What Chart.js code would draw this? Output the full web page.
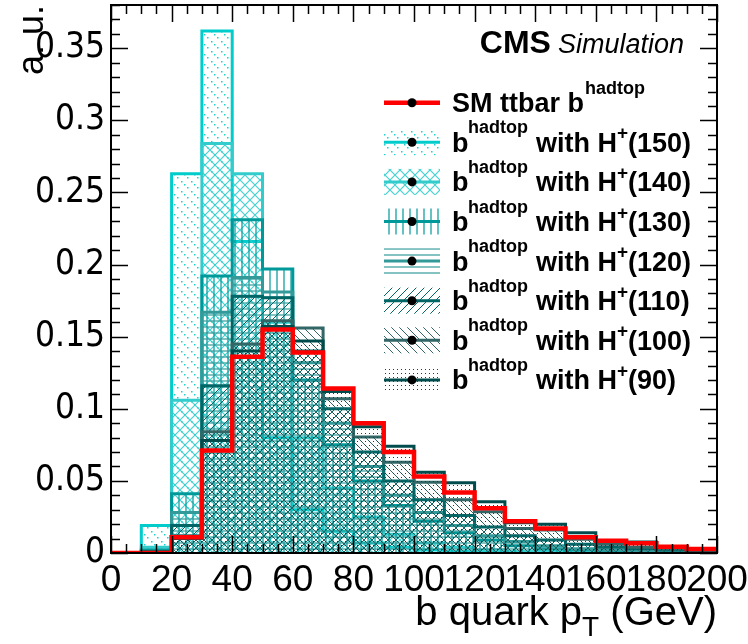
<!DOCTYPE html>
<html>
<head>
<meta charset="utf-8">
<script src="https://cdn.jsdelivr.net/npm/chart.js@4"></script>
<style>
  body { margin: 0; background: #fff; }
  canvas { display: block; }
</style>
</head>
<body>
<canvas id="myChart" width="748" height="644"></canvas>
<script>
  // bin low edges (GeV), 10 GeV bins
  var binLow = [0, 10, 20, 30, 40, 50, 60, 70, 80, 90, 100, 110, 120, 130, 140, 150, 160, 170, 180, 190];
  var binEnd = 200;

  var smTtbar = [0, 0, 0.011, 0.071, 0.136, 0.155, 0.139, 0.114, 0.090, 0.070, 0.053, 0.042, 0.031, 0.022, 0.017, 0.011, 0.0085, 0.0067, 0.0044, 0.0028];
  var hp150 = [0, 0.019, 0.263, 0.362, 0.216, 0.080, 0.030, 0.015, 0.007, 0.004, 0.002, 0.001, 0.001, 0, 0, 0, 0, 0, 0, 0];
  var hp140 = [0, 0.004, 0.106, 0.284, 0.263, 0.160, 0.080, 0.045, 0.025, 0.013, 0.007, 0.004, 0.002, 0.001, 0.001, 0, 0, 0, 0, 0];
  var hp130 = [0, 0.002, 0.041, 0.192, 0.231, 0.197, 0.120, 0.075, 0.050, 0.033, 0.022, 0.014, 0.009, 0.005, 0.003, 0.002, 0.001, 0.001, 0, 0];
  var hp120 = [0, 0.001, 0.028, 0.167, 0.191, 0.181, 0.132, 0.090, 0.060, 0.040, 0.028, 0.019, 0.012, 0.008, 0.005, 0.003, 0.002, 0.001, 0.001, 0];
  var hp110 = [0, 0.001, 0.019, 0.116, 0.178, 0.177, 0.140, 0.100, 0.070, 0.050, 0.037, 0.026, 0.018, 0.012, 0.009, 0.006, 0.004, 0.003, 0.002, 0.001];
  var hp100 = [0, 0, 0.012, 0.084, 0.145, 0.161, 0.156, 0.107, 0.0805, 0.063, 0.049, 0.037, 0.0286, 0.017, 0.016, 0.0095, 0.006, 0.004, 0.003, 0.002];
  var hp90 = [0, 0, 0.010, 0.078, 0.140, 0.157, 0.147, 0.112, 0.0875, 0.074, 0.056, 0.0487, 0.0355, 0.021, 0.020, 0.014, 0.008, 0.0076, 0.004, 0.002];

  var massLabels = ['150', '140', '130', '120', '110', '100', '90'];
  var xTicks = [0, 20, 40, 60, 80, 100, 120, 140, 160, 180, 200];
  var yTicks = [0, 0.05, 0.1, 0.15, 0.2, 0.25, 0.3, 0.35];

  var FONT = '"Liberation Sans", Arial, Helvetica, sans-serif';
  var NARROW = '"Liberation Sans Narrow", "DejaVu Sans Condensed", "Liberation Sans", Arial, sans-serif';

  // pattern tiles, ROOT-like fill styles
  function makePattern(kind, color) {
    var c = document.createElement('canvas');
    var n = {dotdiag: 10, cross: 10, vert: 7, horiz: 6, fwd: 8, back: 8, dots: 4}[kind];
    c.width = n; c.height = n;
    var g = c.getContext('2d');
    g.fillStyle = color;
    g.strokeStyle = color;
    if (kind == 'dotdiag') {
      g.fillRect(1, 1, 1.5, 1.5); g.fillRect(4, 4, 1.5, 1.5); g.fillRect(7, 7, 1.5, 1.5);
    } else if (kind == 'cross') {
      g.lineWidth = 1.2;
      g.beginPath();
      g.moveTo(0, 0); g.lineTo(n, n);
      g.moveTo(n, 0); g.lineTo(0, n);
      g.stroke();
    } else if (kind == 'vert') {
      g.fillRect(3, 0, 2, n);
    } else if (kind == 'horiz') {
      g.fillRect(0, 2, n, 2);
    } else if (kind == 'fwd' || kind == 'back') {
      g.lineWidth = 1;
      g.beginPath();
      [-n, 0, n].forEach(function (k) {
        if (kind == 'fwd') { g.moveTo(k, n); g.lineTo(k + n, 0); }
        else { g.moveTo(k, 0); g.lineTo(k + n, n); }
      });
      g.stroke();
    } else if (kind == 'dots') {
      g.fillRect(1, 1, 1, 1);
    }
    return g.createPattern(c, 'repeat');
  }

  function histPoints(vals) {
    var pts = binLow.map(function (x, i) { return {x: x, y: vals[i]}; });
    pts.push({x: binEnd, y: vals[vals.length - 1]});
    return pts;
  }

  var series = [
    {vals: hp150, color: 'rgb(0,204,204)', hatch: 'rgba(0,204,204,0.9)', kind: 'dotdiag'},
    {vals: hp140, color: 'rgb(51,204,204)', hatch: 'rgba(51,204,204,0.9)', kind: 'cross'},
    {vals: hp130, color: 'rgb(0,153,153)', hatch: 'rgba(0,153,153,0.6)', kind: 'vert'},
    {vals: hp120, color: 'rgb(51,153,153)', hatch: 'rgba(51,153,153,0.6)', kind: 'horiz'},
    {vals: hp110, color: 'rgb(0,102,102)', hatch: 'rgb(0,102,102)', kind: 'fwd'},
    {vals: hp100, color: 'rgb(51,102,102)', hatch: 'rgb(51,102,102)', kind: 'back'},
    {vals: hp90, color: 'rgb(0,76,76)', hatch: 'rgb(0,76,76)', kind: 'dots'}
  ];
  series.forEach(function (s) { s.pattern = makePattern(s.kind, s.hatch); });

  var datasets = [{
    label: 'SM ttbar',
    data: histPoints(smTtbar),
    borderColor: 'rgb(255,0,0)',
    borderWidth: 4.5,
    fill: false,
    stepped: true,
    order: 0
  }];
  series.forEach(function (s, i) {
    datasets.push({
      label: 'H+(' + massLabels[i] + ')',
      data: histPoints(s.vals),
      borderColor: s.color,
      backgroundColor: s.pattern,
      borderWidth: 3,
      fill: 'origin',
      stepped: true,
      order: 7 - i
    });
  });

  // frame, inward ticks, titles, legend
  var decorations = {
    id: 'decorations',
    afterDatasetsDraw: function (chart) {
      var c = chart.ctx, a = chart.chartArea;
      var xs = chart.scales.x, ys = chart.scales.y;
      c.save();
      c.strokeStyle = '#000';
      c.lineWidth = 2;
      c.strokeRect(a.left, a.top, a.right - a.left, a.bottom - a.top);
      c.lineWidth = 1.5;
      c.beginPath();
      for (var v = 0; v <= 200; v += 5) {
        var px = Math.round(xs.getPixelForValue(v)) + 0.5;
        var len = (v % 20 == 0) ? 17 : 9;
        c.moveTo(px, a.bottom); c.lineTo(px, a.bottom - len);
        c.moveTo(px, a.top); c.lineTo(px, a.top + len);
      }
      for (var k = 0; k <= 38; k++) {
        var py = Math.round(ys.getPixelForValue(k / 100)) + 0.5;
        var l2 = (k % 5 == 0) ? 17 : 9;
        c.moveTo(a.left, py); c.lineTo(a.left + l2, py);
        c.moveTo(a.right, py); c.lineTo(a.right - l2, py);
      }
      c.stroke();

      c.fillStyle = '#000';
      // y title
      c.save();
      c.translate(43, a.top);
      c.rotate(-Math.PI / 2);
      c.font = '36px ' + FONT;
      c.textAlign = 'right';
      c.textBaseline = 'alphabetic';
      c.fillText('a. u.', 0, 0);
      c.restore();

      // x title: b quark p_T (GeV)
      c.textBaseline = 'alphabetic';
      c.textAlign = 'left';
      var big = '40px ' + FONT, small = '28px ' + FONT;
      c.font = big;
      var w1 = c.measureText('b quark p').width;
      var w3 = c.measureText(' (GeV)').width;
      c.font = small;
      var w2 = c.measureText('T').width;
      var x0 = a.right - (w1 + w2 + w3);
      var yb = 625;
      c.font = big; c.fillText('b quark p', x0, yb);
      c.font = small; c.fillText('T', x0 + w1, yb + 11);
      c.font = big; c.fillText(' (GeV)', x0 + w1 + w2, yb);

      // CMS Simulation
      c.textAlign = 'right';
      c.font = 'italic 27px ' + FONT;
      c.fillText('Simulation', 684, 53);
      var ws = c.measureText('Simulation').width;
      c.font = 'bold 32px ' + FONT;
      c.fillText('CMS', 684 - ws - 7, 53);

      // legend
      c.textAlign = 'left';
      var bx0 = 384, bx1 = 440, mx = 412;
      var entryY = function (i) { return 102.7 + i * 39.6; };
      var y = entryY(0);
      c.strokeStyle = 'rgb(255,0,0)';
      c.lineWidth = 4.5;
      c.beginPath(); c.moveTo(bx0, y); c.lineTo(bx1, y); c.stroke();
      c.beginPath(); c.arc(mx, y, 4.5, 0, 2 * Math.PI); c.fill();
      c.font = 'bold 27px ' + FONT;
      c.fillText('SM ttbar b', 452, y + 9.5);
      var wsm = c.measureText('SM ttbar b').width;
      c.font = 'bold 18px ' + FONT;
      c.fillText('hadtop', 452 + wsm + 1, y - 9);

      series.forEach(function (s, i) {
        var yy = entryY(i + 1);
        c.fillStyle = s.pattern;
        c.fillRect(bx0, yy - 13, bx1 - bx0, 26);
        c.strokeStyle = s.color;
        c.lineWidth = 3;
        c.beginPath(); c.moveTo(bx0, yy); c.lineTo(bx1, yy); c.stroke();
        c.fillStyle = '#000';
        c.beginPath(); c.arc(mx, yy, 4.5, 0, 2 * Math.PI); c.fill();
        c.font = 'bold 27px ' + FONT;
        c.fillText('b', 452, yy + 9.5);
        c.font = 'bold 18px ' + FONT;
        c.fillText('hadtop', 468, yy - 9);
        c.font = 'bold 27px ' + FONT;
        c.fillText('with H', 536, yy + 9.5);
        var wh = c.measureText('with H').width;
        c.font = 'bold 19px ' + FONT;
        c.fillText('+', 536 + wh, yy - 3);
        var wp = c.measureText('+').width;
        c.font = 'bold 27px ' + FONT;
        c.fillText('(' + massLabels[i] + ')', 536 + wh + wp, yy + 9.5);
      });
      c.restore();
    }
  };

  var ctx = document.getElementById('myChart');

  new Chart(ctx, {
    type: 'line',
    data: { datasets: datasets },
    options: {
      responsive: false,
      animation: false,
      layout: { padding: { top: 5, right: 31, left: 0, bottom: 0 } },
      elements: { point: { radius: 0 } },
      plugins: { legend: { display: false }, tooltip: { enabled: false } },
      scales: {
        x: {
          type: 'linear',
          min: 0,
          max: 200,
          afterBuildTicks: function (s) { s.ticks = xTicks.map(function (v) { return {value: v}; }); },
          afterFit: function (s) { s.height = 91; s.paddingLeft = 0; s.paddingRight = 0; },
          grid: { display: false, drawTicks: false },
          border: { display: false },
          ticks: {
            autoSkip: false,
            maxRotation: 0,
            padding: 6,
            color: '#000',
            font: { family: FONT, size: 37 },
            callback: function (v) { return String(v); }
          }
        },
        y: {
          min: 0,
          max: 0.38,
          afterBuildTicks: function (s) { s.ticks = yTicks.map(function (v) { return {value: v}; }); },
          afterFit: function (s) { s.width = 111; s.paddingTop = 0; s.paddingBottom = 0; },
          grid: { display: false, drawTicks: false },
          border: { display: false },
          ticks: {
            padding: 6,
            color: '#000',
            font: { family: NARROW, size: 35 },
            callback: function (v) { return String(+v.toFixed(2)); }
          }
        }
      }
    },
    plugins: [decorations]
  });
</script>
</body>
</html>
